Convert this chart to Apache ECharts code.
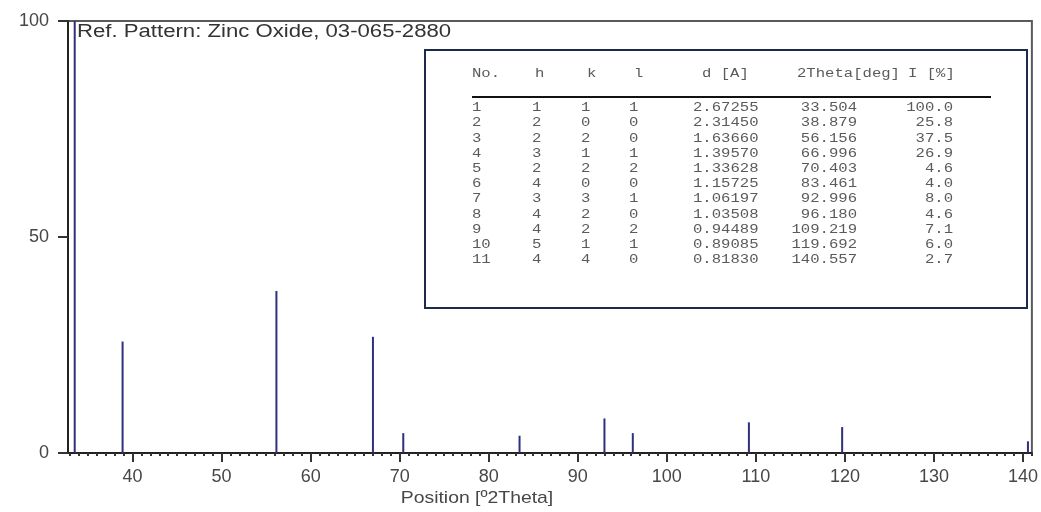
<!DOCTYPE html>
<html>
<head>
<meta charset="utf-8">
<script src="https://cdn.jsdelivr.net/npm/echarts@6/dist/echarts.min.js"></script>
<style>
html,body{margin:0;padding:0;background:#fff;}
#chart{width:1041px;height:512px;}
</style>
</head>
<body>
<div id="chart"></div>
<script>
// ---- data (ZnO reference pattern 03-065-2880) ----
const refNo = [1, 2, 3, 4, 5, 6, 7, 8, 9, 10, 11];
const hIdx = [1, 2, 2, 3, 2, 4, 3, 4, 4, 5, 4];
const kIdx = [1, 0, 2, 1, 2, 0, 3, 2, 2, 1, 4];
const lIdx = [1, 0, 0, 1, 2, 0, 1, 0, 2, 1, 0];
const dSpacing = [2.67255, 2.31450, 1.63660, 1.39570, 1.33628, 1.15725, 1.06197, 1.03508, 0.94489, 0.89085, 0.81830];
const twoTheta = [33.504, 38.879, 56.156, 66.996, 70.403, 83.461, 92.996, 96.180, 109.219, 119.692, 140.557];
const intensity = [100.0, 25.8, 37.5, 26.9, 4.6, 4.0, 8.0, 4.6, 7.1, 6.0, 2.7];
const xTicks = [40, 50, 60, 70, 80, 90, 100, 110, 120, 130, 140];
const yTicks = [0, 50, 100];
const titleText = 'Ref. Pattern: Zinc Oxide, 03-065-2880';
const xAxisTitle = 'Position [º2Theta]';
const tableHeaders = ['No.', 'h', 'k', 'l', 'd [A]', '2Theta[deg]', 'I [%]'];

const minorTicks = [];
for (let v = 33; v <= 141; v++) minorTicks.push(v);

const chart = echarts.init(document.getElementById('chart'), null, {renderer: 'canvas'});

// ---- table graphic built from data ----
const mono = {fontFamily: 'Liberation Mono, DejaVu Sans Mono, monospace', fontSize: 12, fill: '#5a5a5a'};
const SX = 1.3;
function t(x, y, text, align) {
  return {type: 'text', x: x, y: y, scaleX: SX, z: 10,
    style: Object.assign({}, mono, {text: String(text), textAlign: align || 'left', textVerticalAlign: 'middle'})};
}
const tableEls = [
  {type: 'rect', shape: {x: 425, y: 50, width: 602, height: 258}, z: 9,
   style: {fill: '#fff', stroke: '#1e2a4a', lineWidth: 2}},
  {type: 'line', shape: {x1: 472, y1: 97, x2: 991, y2: 97}, z: 10, style: {stroke: '#111', lineWidth: 2}}
];
const hdrX = [472, 535, 587, 634, 702, 797, 908];
tableHeaders.forEach((h, i) => tableEls.push(t(hdrX[i], 74, h)));
refNo.forEach((n, i) => {
  const y = 108 + i * 15.2;
  tableEls.push(t(472, y, n));
  tableEls.push(t(532, y, hIdx[i]));
  tableEls.push(t(581, y, kIdx[i]));
  tableEls.push(t(629, y, lIdx[i]));
  tableEls.push(t(693, y, dSpacing[i].toFixed(5)));
  tableEls.push(t(857, y, twoTheta[i].toFixed(3), 'right'));
  tableEls.push(t(953, y, intensity[i].toFixed(1), 'right'));
});

const sans = 'Liberation Sans, Arial, sans-serif';
const option = {
  animation: false,
  backgroundColor: '#fff',
  grid: {left: 68, right: 5, top: 21, bottom: 59, show: true, borderColor: '#5a5a5a', borderWidth: 2, backgroundColor: 'transparent'},
  xAxis: [{
    type: 'value', min: 32.75, max: 141, position: 'bottom',
    axisLine: {show: true, onZero: false, lineStyle: {color: '#222', width: 2}},
    axisTick: {show: true, customValues: xTicks, length: 9, lineStyle: {color: '#333', width: 2}},
    axisLabel: {show: true, customValues: xTicks, margin: 15, fontSize: 18, color: '#474747', fontFamily: sans},
    splitLine: {show: false}
  }, {
    type: 'value', min: 32.75, max: 141, position: 'bottom',
    axisLine: {show: false},
    axisTick: {show: true, customValues: minorTicks, length: 3, lineStyle: {color: '#333', width: 2}},
    axisLabel: {show: false},
    splitLine: {show: false}
  }],
  yAxis: {
    type: 'value', min: 0, max: 100, interval: 50,
    axisLine: {show: true, onZero: false, lineStyle: {color: '#222', width: 2}},
    axisTick: {show: true, length: 10, lineStyle: {color: '#333', width: 2}},
    axisLabel: {margin: 19, fontSize: 18, color: '#474747', fontFamily: sans},
    splitLine: {show: false}
  },
  series: [{
    type: 'custom',
    xAxisIndex: 0,
    data: twoTheta.map((x, i) => [x, intensity[i]]),
    renderItem: function (params, api) {
      const p0 = api.coord([api.value(0), 0]);
      const p1 = api.coord([api.value(0), api.value(1)]);
      return {type: 'line', shape: {x1: p0[0], y1: p0[1], x2: p1[0], y2: p1[1]},
        style: {stroke: '#2f2f7c', lineWidth: 2}};
    },
    z: 5
  }],
  graphic: [
    {type: 'text', x: 77, y: 32, scaleX: 1.23, z: 10, style: {text: titleText, fontSize: 18, fill: '#333',
      fontFamily: sans, textVerticalAlign: 'middle'}},
    {type: 'text', x: 477, y: 498, scaleX: 1.14, z: 10, style: {text: xAxisTitle, fontSize: 17, fill: '#474747',
      fontFamily: sans, textAlign: 'center', textVerticalAlign: 'middle'}}
  ].concat(tableEls)
};
chart.setOption(option);
</script>
</body>
</html>
